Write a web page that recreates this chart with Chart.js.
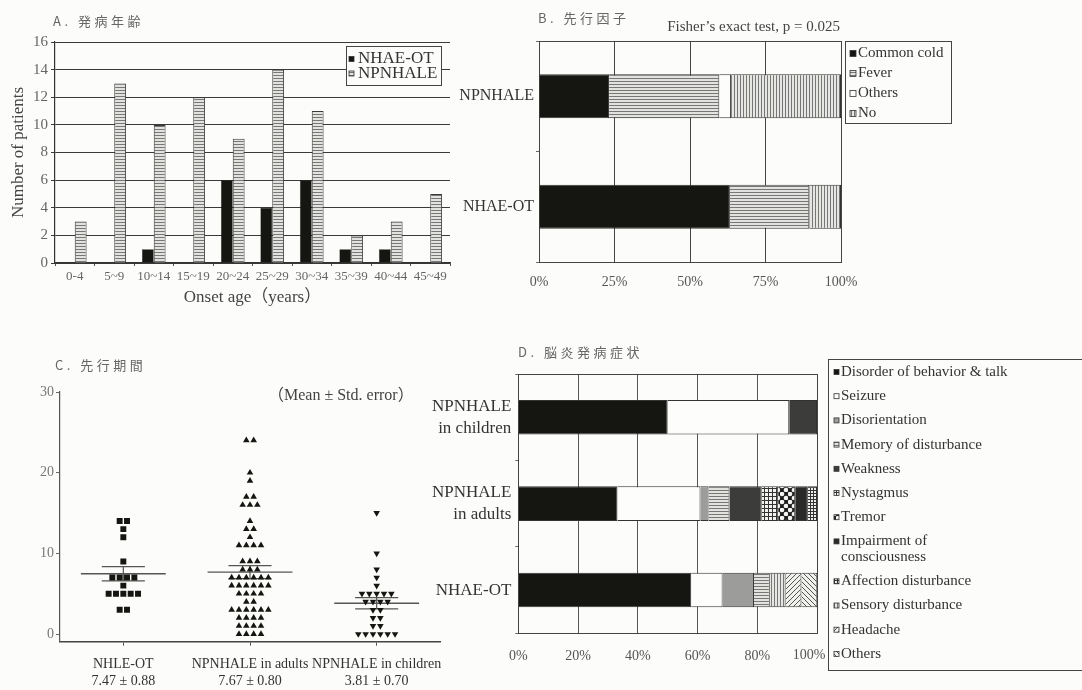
<!DOCTYPE html>
<html>
<head>
<meta charset="utf-8">
<script src="https://cdn.jsdelivr.net/npm/chart.js@4.4.1/dist/chart.umd.min.js"></script>
<style>
    html, body { margin: 0; padding: 0; background: #fcfcfa; }
    body { width: 1082px; height: 690px; position: relative; overflow: hidden; }
    .panel { position: absolute; }
</style>
</head>
<body>
<div class="panel" style="left:0;top:0;width:455px;height:310px"><canvas id="chartA"></canvas></div>
<div class="panel" style="left:455px;top:0;width:627px;height:310px"><canvas id="chartB"></canvas></div>
<div class="panel" style="left:0;top:340px;width:500px;height:350px"><canvas id="chartC"></canvas></div>
<div class="panel" style="left:420px;top:340px;width:662px;height:350px"><canvas id="chartD"></canvas></div>
<script>
// A. onset age
const ageGroups = ['0-4', '5~9', '10~14', '15~19', '20~24', '25~29', '30~34', '35~39', '40~44', '45~49'];
const ageNhaeOt = [0, 0, 1, 0, 6, 4, 6, 1, 1, 0];
const ageNpnhale = [3, 13, 10, 12, 9, 14, 11, 2, 3, 5];

// B. preceding factor (%)
const triggerGroups = ['NPNHALE', 'NHAE-OT'];
const triggerCommonCold = [23.2, 63.2];
const triggerFever = [36.5, 26.3];
const triggerOthers = [3.9, 0];
const triggerNo = [36.4, 10.5];
const triggerTicks = ['0%', '25%', '50%', '75%', '100%'];

// C. latency (days)
const latencyGroups = ['NHLE-OT', 'NPNHALE in adults', 'NPNHALE in children'];
const latencyStats = ['7.47 ± 0.88', '7.67 ± 0.80', '3.81 ± 0.70'];
const latencyMean = [7.47, 7.67, 3.81];
const latencySE = [0.88, 0.80, 0.70];
const latencyNhleOt = [14, 14, 13, 12, 9, 7, 7, 7, 7, 6, 5, 5, 5, 5, 5, 3, 3];
const latencyAdults = [24, 24, 20, 19, 17, 17, 16, 16, 16, 14, 13, 13, 12, 11, 11, 11, 11,
    9, 9, 9, 8, 8, 8, 7, 7, 7, 7, 7, 7, 6, 6, 6, 6, 6, 6, 5, 5, 5, 5, 4, 4,
    3, 3, 3, 3, 3, 3, 2, 2, 2, 2, 1, 1, 1, 1, 0, 0, 0, 0];
const latencyChildren = [15, 10, 8, 7, 6, 5, 5, 5, 5, 5, 4, 4, 4, 4, 3, 3, 2, 2, 1, 1, 0, 0, 0, 0, 0, 0];

// D. symptoms at onset (%)
const onsetGroups = [['NPNHALE', 'in children'], ['NPNHALE', 'in adults'], 'NHAE-OT'];
const onsetTicks = ['0%', '20%', '40%', '60%', '80%', '100%'];
const symptomLabels = ['Disorder of behavior & talk', 'Seizure', 'Disorientation', 'Memory of disturbance',
    'Weakness', 'Nystagmus', 'Tremor', ['Impairment of', 'consciousness'], 'Affection disturbance',
    'Sensory disturbance', 'Headache', 'Others'];
const onsetChildren = [50.0, 40.7, 0, 0, 9.3, 0, 0, 0, 0, 0, 0, 0];
const onsetAdults = [33.2, 27.8, 2.7, 7.0, 10.8, 5.5, 5.7, 4.0, 3.3, 0, 0, 0];
const onsetNhaeOt = [57.9, 10.5, 10.5, 5.3, 0, 0, 0, 0, 0, 5.3, 5.3, 5.3];

const SERIF = "'Liberation Serif', 'DejaVu Serif', 'Noto Sans CJK JP', serif";
const CJK = "'Noto Sans CJK JP', sans-serif";
Chart.defaults.font.family = SERIF;
Chart.defaults.color = '#444';
Chart.defaults.animation = false;

// small tiled fills that mimic the printed hatching
function tile(w, h, draw) {
    const c = document.createElement('canvas');
    c.width = w; c.height = h;
    const g = c.getContext('2d');
    draw(g, w, h);
    return g.createPattern(c, 'repeat');
}
const hStripes = tile(4, 3, (g, w, h) => {
    g.fillStyle = '#e2e2de'; g.fillRect(0, 0, w, h);
    g.fillStyle = '#777'; g.fillRect(0, 0, w, 1);
});
const vStripes = tile(3, 4, (g, w, h) => {
    g.fillStyle = '#e6e6e2'; g.fillRect(0, 0, w, h);
    g.fillStyle = '#777'; g.fillRect(0, 0, 1, h);
});
const checks = tile(4, 4, (g, w, h) => {
    g.fillStyle = '#f2f2ee'; g.fillRect(0, 0, w, h);
    g.fillStyle = '#333'; g.fillRect(0, 0, w, 1); g.fillRect(0, 0, 1, h);
});
const fineChecks = tile(3, 3, (g, w, h) => {
    g.fillStyle = '#eeeeea'; g.fillRect(0, 0, w, h);
    g.fillStyle = '#333'; g.fillRect(0, 0, w, 1); g.fillRect(0, 0, 1, h);
});
const dots = tile(8, 8, (g, w, h) => {
    g.fillStyle = '#1e1e1e'; g.fillRect(0, 0, w, h);
    g.fillStyle = '#f4f4f2';
    [[2, 2], [6, 6]].forEach(([x, y]) => { g.beginPath(); g.arc(x, y, 2.3, 0, Math.PI * 2); g.fill(); });
});
function diagonal(dir) {
    return tile(5, 5, (g, w, h) => {
        g.fillStyle = '#f0f0ec'; g.fillRect(0, 0, w, h);
        g.strokeStyle = '#555'; g.lineWidth = 1;
        g.beginPath();
        if (dir > 0) { g.moveTo(-1, 6); g.lineTo(6, -1); } else { g.moveTo(-1, -1); g.lineTo(6, 6); }
        g.stroke();
    });
}
const BLACK = '#151511';

// draws the framed legend boxes
const boxLegend = {
    id: 'boxLegend',
    afterDraw(chart, args, o) {
        if (!o || o.x === undefined) return;
        const ctx = chart.ctx;
        ctx.save();
        ctx.fillStyle = '#fcfcfa';
        ctx.fillRect(o.x, o.y, o.w, o.h);
        ctx.strokeStyle = '#444';
        ctx.lineWidth = 1;
        ctx.strokeRect(o.x + 0.5, o.y + 0.5, o.w, o.h);
        ctx.font = o.font;
        ctx.textBaseline = 'middle';
        ctx.textAlign = 'left';
        let y = o.y + o.first;
        chart.data.datasets.forEach(ds => {
            const s = o.box;
            ctx.fillStyle = ds.backgroundColor;
            ctx.fillRect(o.x + o.padX, y - s / 2, s, s);
            ctx.strokeStyle = '#333';
            ctx.lineWidth = 0.8;
            ctx.strokeRect(o.x + o.padX, y - s / 2, s, s);
            ctx.fillStyle = '#333';
            const lines = [].concat(ds.label);
            lines.forEach((t, i) => ctx.fillText(t, o.x + o.textX, y + i * o.lineH));
            y += o.rowH + (lines.length - 1) * o.lineH;
        });
        ctx.restore();
    }
};

// free text: panel titles and notes
const texts = {
    id: 'texts',
    afterDraw(chart, args, o) {
        const ctx = chart.ctx;
        ctx.save();
        (o.items || []).forEach(t => {
            ctx.font = t.font;
            ctx.fillStyle = t.color || '#333';
            ctx.textAlign = t.align || 'left';
            ctx.textBaseline = 'middle';
            ctx.letterSpacing = t.spacing || '0px';
            ctx.fillText(t.text, t.x, t.y);
        });
        ctx.restore();
    }
};

// outline of the plot area
const frame = {
    id: 'frame',
    beforeDatasetsDraw(chart, args, o) {
        if (!o || !o.color) return;
        const {left, top, right, bottom} = chart.chartArea;
        const ctx = chart.ctx;
        ctx.save();
        ctx.strokeStyle = o.color;
        ctx.lineWidth = 1;
        ctx.strokeRect(Math.round(left) + 0.5, Math.round(top) + 0.5, Math.round(right - left), Math.round(bottom - top));
        ctx.restore();
    }
};

const noTip = {legend: {display: false}, tooltip: {enabled: false}};
const titleFont = `13px ${CJK}`;

// ---------- A ----------
new Chart(document.getElementById('chartA'), {
    type: 'bar',
    data: {
        labels: ageGroups,
        datasets: [
            {label: 'NHAE-OT', data: ageNhaeOt, backgroundColor: BLACK, borderColor: BLACK, borderWidth: 0.5},
            {label: 'NPNHALE', data: ageNpnhale, backgroundColor: hStripes, borderColor: '#3a3a3a', borderWidth: 1}
        ]
    },
    options: {
        responsive: true,
        maintainAspectRatio: false,
        layout: {padding: {top: 42, right: 5, left: 0, bottom: 0}},
        datasets: {bar: {categoryPercentage: 0.6, barPercentage: 1}},
        plugins: {
            ...noTip,
            boxLegend: {x: 346, y: 46, w: 95, h: 39, first: 13, rowH: 14.5, lineH: 15, box: 5, padX: 3, textX: 12, font: `17px ${SERIF}`},
            texts: {items: [{text: 'A. 発病年齢', x: 53, y: 21, font: titleFont, color: '#666', spacing: '3.5px'}]}
        },
        scales: {
            x: {
                grid: {drawOnChartArea: false, offset: true, tickLength: 3, color: '#555'},
                border: {color: '#333', width: 1.2},
                ticks: {color: '#666', font: {size: 13}, padding: 3, maxRotation: 0, autoSkip: false},
                title: {display: true, text: 'Onset age（years）', color: '#444', font: {size: 17}, padding: {top: 0, bottom: 2}},
                afterFit(s) { s.height = 47; }
            },
            y: {
                min: 0, max: 16,
                ticks: {stepSize: 2, color: '#666', font: {size: 15}, padding: 3},
                grid: {color: '#3a3a3a', tickLength: 4},
                border: {color: '#333', width: 1.2},
                title: {display: true, text: 'Number of patients', color: '#444', font: {size: 17}, padding: {top: 8, bottom: 0}},
                afterFit(s) { s.width = 55; }
            }
        }
    },
    plugins: [texts, boxLegend]
});

// ---------- B ----------
new Chart(document.getElementById('chartB'), {
    type: 'bar',
    data: {
        labels: triggerGroups,
        datasets: [
            {label: 'Common cold', data: triggerCommonCold, backgroundColor: BLACK},
            {label: 'Fever', data: triggerFever, backgroundColor: hStripes},
            {label: 'Others', data: triggerOthers, backgroundColor: '#fdfdfb'},
            {label: 'No', data: triggerNo, backgroundColor: vStripes}
        ]
    },
    options: {
        indexAxis: 'y',
        responsive: true,
        maintainAspectRatio: false,
        layout: {padding: {top: 41, right: 241, left: 0, bottom: 0}},
        datasets: {bar: {categoryPercentage: 0.4, barPercentage: 1, borderColor: '#333', borderWidth: 1}},
        plugins: {
            ...noTip,
            frame: {color: '#444'},
            boxLegend: {x: 390, y: 41, w: 106, h: 82, first: 12.5, rowH: 20, lineH: 15, box: 6, padX: 5, textX: 13, font: `15px ${SERIF}`},
            texts: {items: [
                {text: 'B. 先行因子', x: 83, y: 18, font: titleFont, color: '#666', spacing: '3.5px'},
                {text: 'Fisher\u2019s exact test, p = 0.025', x: 385, y: 27, align: 'right', font: `15px ${SERIF}`, color: '#444'}
            ]}
        },
        scales: {
            x: {
                stacked: true, min: 0, max: 100,
                ticks: {stepSize: 25, callback: (v) => triggerTicks[v / 25], color: '#555', font: {size: 14}, padding: 12},
                grid: {color: '#444', drawTicks: false},
                border: {color: '#444'},
                afterFit(s) { s.height = 48; }
            },
            y: {
                stacked: true,
                ticks: {color: '#333', font: {size: 16}, padding: 2},
                grid: {drawOnChartArea: false, offset: true, tickLength: 3, color: '#666'},
                border: {color: '#444'},
                afterFit(s) { s.width = 84; }
            }
        }
    },
    plugins: [frame, texts, boxLegend]
});

// ---------- C ----------
// dot-plot layout: equal values sit side by side around the group centre
function swarm(values, center, step) {
    const counts = {};
    values.forEach(v => { counts[v] = (counts[v] || 0) + 1; });
    const seen = {};
    return values.map(v => {
        const k = seen[v] || 0;
        seen[v] = k + 1;
        return {x: center + (k - (counts[v] - 1) / 2) * step, y: v};
    });
}
const DOT_STEP = 0.058;
const meanLines = [];
const seLines = [];
latencyMean.forEach((m, i) => {
    const c = i + 1, se = latencySE[i];
    meanLines.push({x: c - 0.335, y: m}, {x: c + 0.335, y: m}, {x: c + 0.4, y: null});
    seLines.push({x: c - 0.17, y: m + se}, {x: c + 0.17, y: m + se}, {x: c + 0.2, y: null},
        {x: c - 0.17, y: m - se}, {x: c + 0.17, y: m - se}, {x: c + 0.2, y: null},
        {x: c, y: m - se}, {x: c, y: m + se}, {x: c + 0.2, y: null});
});

new Chart(document.getElementById('chartC'), {
    type: 'scatter',
    data: {
        datasets: [
            {data: swarm(latencyNhleOt, 1, DOT_STEP), pointStyle: 'rect', pointRadius: 4.2, backgroundColor: BLACK, borderWidth: 0},
            {data: swarm(latencyAdults, 2, DOT_STEP), pointStyle: 'triangle', pointRadius: 3.8, backgroundColor: BLACK, borderWidth: 0},
            {data: swarm(latencyChildren, 3, DOT_STEP), pointStyle: 'triangle', rotation: 180, pointRadius: 3.8, backgroundColor: BLACK, borderWidth: 0},
            {data: meanLines, showLine: true, pointRadius: 0, borderColor: '#555', borderWidth: 1.4, spanGaps: false},
            {data: seLines, showLine: true, pointRadius: 0, borderColor: '#555', borderWidth: 1.2, spanGaps: false}
        ]
    },
    options: {
        responsive: true,
        maintainAspectRatio: false,
        layout: {padding: {top: 52, right: 60, left: 0, bottom: 0}},
        plugins: {
            ...noTip,
            texts: {items: [
                {text: 'C. 先行期間', x: 55, y: 25, font: titleFont, color: '#666', spacing: '3.5px'},
                {text: '（Mean ± Std. error）', x: 268, y: 56, font: `16px ${SERIF}`, color: '#444'}
            ]}
        },
        scales: {
            x: {
                type: 'linear', min: 0.5, max: 3.5,
                afterBuildTicks(s) { s.ticks = latencyGroups.map((g, i) => ({value: i + 1})); },
                ticks: {
                    callback: (v) => [latencyGroups[v - 1], latencyStats[v - 1]],
                    color: '#333',
                    font: {size: 14},
                    padding: 10, maxRotation: 0
                },
                grid: {drawOnChartArea: false, tickLength: 4, color: '#555'},
                border: {color: '#444', width: 1.5},
                afterFit(s) { s.height = 48.3; }
            },
            y: {
                min: -0.95, max: 30,
                afterBuildTicks(s) { s.ticks = [0, 10, 20, 30].map(v => ({value: v})); },
                ticks: {color: '#777', font: {size: 14}, padding: 2},
                grid: {drawOnChartArea: false, tickLength: 4, color: '#666'},
                border: {color: '#555', width: 1.2},
                afterFit(s) { s.width = 60; }
            }
        }
    },
    plugins: [texts]
});

// ---------- D ----------
const symptomFills = [BLACK, '#fdfdfb', '#9c9c9a', hStripes, '#3c3c3a', checks, dots, '#2a2a28',
    fineChecks, vStripes, diagonal(1), diagonal(-1)];

new Chart(document.getElementById('chartD'), {
    type: 'bar',
    data: {
        labels: onsetGroups,
        datasets: symptomLabels.map((label, i) => ({
            label: label,
            data: [onsetChildren[i], onsetAdults[i], onsetNhaeOt[i]],
            backgroundColor: symptomFills[i]
        }))
    },
    options: {
        indexAxis: 'y',
        responsive: true,
        maintainAspectRatio: false,
        layout: {padding: {top: 34, right: 265, left: 0, bottom: 0}},
        datasets: {bar: {categoryPercentage: 0.4, barPercentage: 1, borderColor: '#333', borderWidth: 1}},
        plugins: {
            ...noTip,
            frame: {color: '#444'},
            boxLegend: {x: 408, y: 19, w: 270, h: 311, first: 13, rowH: 24.2, lineH: 15.7, box: 5, padX: 6, textX: 13, font: `15px ${SERIF}`},
            texts: {items: [
                {text: 'D. 脳炎発病症状', x: 98, y: 12, font: titleFont, color: '#666', spacing: '3.5px'},
                // the last tick label sits left of its gridline, clear of the legend box
                {text: onsetTicks[5], x: 389, y: 315, align: 'center', font: `14px ${SERIF}`, color: '#555'}
            ]}
        },
        scales: {
            x: {
                stacked: true, min: 0, max: 100,
                ticks: {stepSize: 20, callback: (v) => (v < 100 ? onsetTicks[v / 20] : ''), color: '#555', font: {size: 14}, padding: 15},
                grid: {color: '#555', drawTicks: false},
                border: {color: '#444'},
                afterFit(s) { s.height = 56.7; }
            },
            y: {
                stacked: true,
                ticks: {color: '#333', font: {size: 17, lineHeight: 1.3}, padding: 4},
                grid: {drawOnChartArea: false, offset: true, tickLength: 3, color: '#666'},
                border: {color: '#444'},
                afterFit(s) { s.width = 98.3; }
            }
        }
    },
    plugins: [frame, texts, boxLegend]
});
</script>
</body>
</html>
